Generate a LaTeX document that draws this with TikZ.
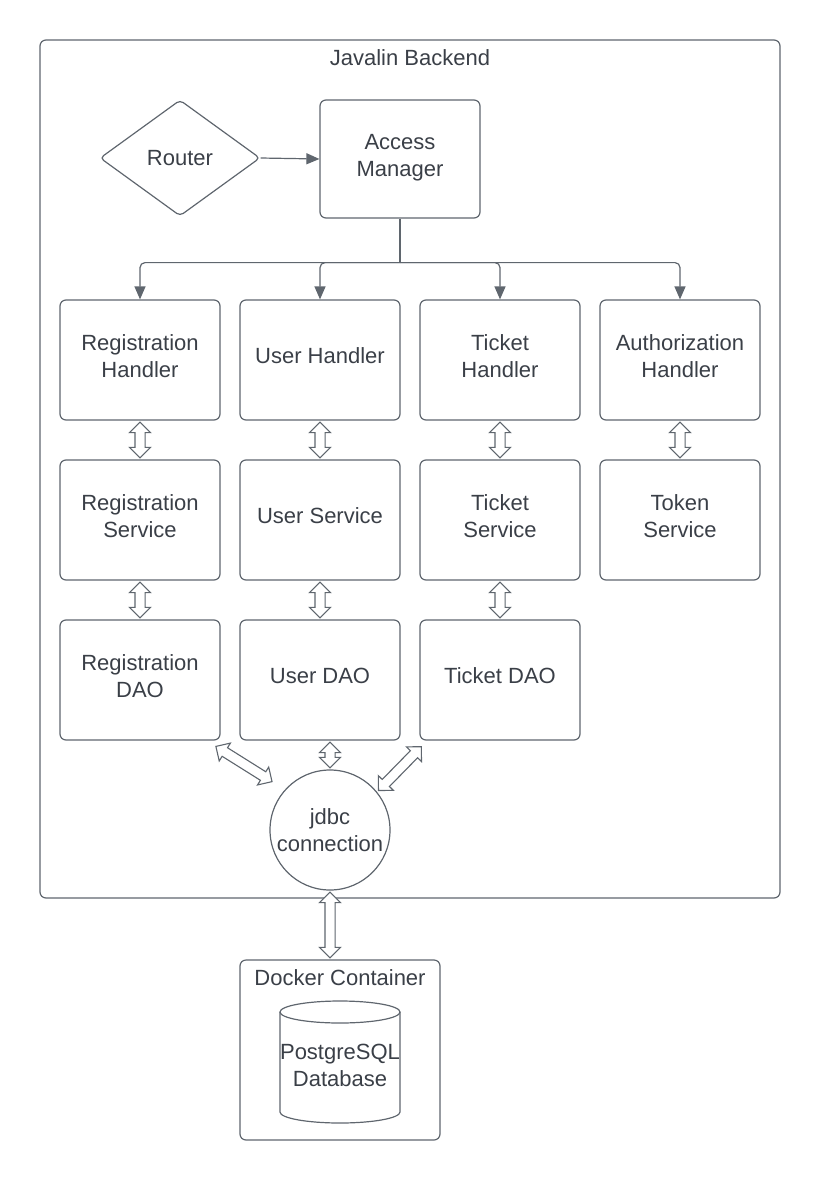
\documentclass[tikz,border=0pt]{standalone}
\usepackage{fontspec}
\setmainfont{Liberation Sans}
\usetikzlibrary{arrows.meta,shapes.geometric,shapes.arrows,calc}

\definecolor{linec}{HTML}{5F666E}
\definecolor{textc}{HTML}{3A3F47}

\tikzset{
  lbl/.style={text=textc, font=\fontsize{22}{27}\selectfont, align=center, inner sep=2pt},
  box/.style={lbl, draw=linec, line width=1.2pt, rounded corners=6pt,
    minimum width=160pt, minimum height=120pt, execute at end node={\rule[-8pt]{0pt}{0pt}}},
  groupbox/.style={draw=linec, line width=1.2pt, rounded corners=6pt},
  decision/.style={lbl, draw=linec, line width=1.2pt, diamond, aspect=1.38,
    rounded corners=4pt, minimum width=160pt, minimum height=116pt, inner sep=0pt},
  conn/.style={draw=linec, line width=1.2pt, -{Triangle[length=13pt,width=11pt]}},
  dblarrow/.style={draw=linec, line width=1.1pt, fill=white, double arrow,
    double arrow head extend=5.5pt, double arrow head indent=0pt,
    inner xsep=0pt, inner ysep=4.5pt}
}

% outlined two-way arrow from #1 to #2
\newcommand{\blockarrow}[2]{%
  \path let \p1=(#1), \p2=(#2),
    \n1={atan2(\y2-\y1,\x2-\x1)}, \n2={veclen(\x2-\x1,\y2-\y1)} in
    node[dblarrow, minimum height=\n2-3, rotate=\n1] at ($(#1)!.5!(#2)$) {};}

\begin{document}
\begin{tikzpicture}[x=1pt,y=1pt]
\useasboundingbox (0,0) rectangle (820,-1180);

% backend frame
\node[groupbox, minimum width=740pt, minimum height=858pt] (backend) at (410,-469) {};
\node[lbl, anchor=north] (backendlbl) at (410,-47) {Javalin Backend};

\node[decision] (router) at (180,-158) {Router};
\node[box, minimum height=118pt, execute at end node={}] (am) at (400,-159) {Access\\Manager};
\draw[conn] (router.east) -- (am.west);

% handlers
\node[box] (reghd) at (140,-360) {Registration\\Handler};
\node[box] (userhd) at (320,-360) {User Handler};
\node[box] (tickethd) at (500,-360) {Ticket\\Handler};
\node[box] (authhd) at (680,-360) {Authorization\\Handler};

% services
\node[box] (regsvc) at (140,-520) {Registration\\Service};
\node[box] (usersvc) at (320,-520) {User Service};
\node[box] (ticketsvc) at (500,-520) {Ticket\\Service};
\node[box] (tokensvc) at (680,-520) {Token\\Service};

% daos
\node[box] (regdao) at (140,-680) {Registration\\DAO};
\node[box] (userdao) at (320,-680) {User DAO};
\node[box] (ticketdao) at (500,-680) {Ticket DAO};

\coordinate (split) at ($(am.south)+(0,-44)$);
\draw[draw=linec, line width=1.2pt] (am.south) -- (split);
\foreach \n in {reghd,userhd,tickethd,authhd}
  \draw[conn, rounded corners=5pt] (split) -| (\n.north);

\foreach \a/\b in {reghd/regsvc,userhd/usersvc,tickethd/ticketsvc,authhd/tokensvc,
                   regsvc/regdao,usersvc/userdao,ticketsvc/ticketdao}
  {\blockarrow{\a.south}{\b.north}}

\node[lbl, draw=linec, line width=1.2pt, circle, minimum size=120pt, inner sep=0pt]
  (jdbc) at (330,-830) {jdbc\\connection};

\coordinate (lfrom) at ($(regdao.south east)+(-6,-5)$);
\coordinate (lto) at ($(jdbc.center)+(140:74)$);
\coordinate (rfrom) at ($(ticketdao.south west)+(3,-5)$);
\coordinate (rto) at ($(jdbc.center)+(39:61)$);
\blockarrow{lfrom}{lto}
\blockarrow{jdbc.north |- userdao.south}{jdbc.north}
\blockarrow{rfrom}{rto}

% database
\node[groupbox, minimum width=200pt, minimum height=180pt] (docker) at (340,-1050) {};
\node[lbl, anchor=north] (dockerlbl) at (340,-967) {Docker Container};
\blockarrow{jdbc.south}{jdbc.south |- docker.north}

\node[lbl, inner sep=0pt] (db) at (340,-1065) {PostgreSQL\\Database};
\draw[draw=linec, line width=1.2pt] (340,-1012) ellipse[x radius=60, y radius=11];
\draw[draw=linec, line width=1.2pt] (280,-1012) -- (280,-1112)
  arc[start angle=180, end angle=360, x radius=60, y radius=11] -- (400,-1012);
\end{tikzpicture}
\end{document}
